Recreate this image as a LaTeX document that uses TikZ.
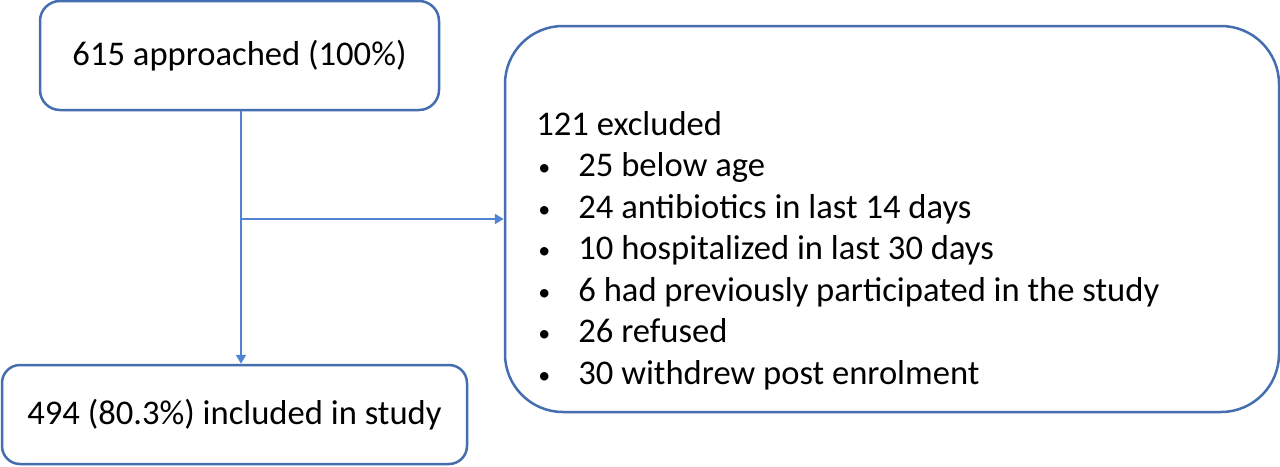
\documentclass[tikz,border=0pt]{standalone}
\usepackage{fontspec}
\setmainfont{Carlito}
\usetikzlibrary{arrows.meta}
\definecolor{boxblue}{RGB}{68,110,175}
\definecolor{lineblue}{RGB}{80,132,210}
\newcommand{\blt}{\makebox[21pt][l]{\hspace{1pt}\raisebox{0.5pt}{\fontsize{12}{12}\selectfont•}}}
\tikzset{
  flowbox/.style={draw=boxblue, line width=1.25pt, fill=white, inner sep=0pt},
  conn/.style={draw=lineblue, line width=1pt, -{Triangle[length=4.5pt,width=5pt]}},
  txt/.style={font=\fontsize{17.3}{20.75}\selectfont, inner sep=0pt, text=black}
}
\begin{document}
\begin{tikzpicture}[x=0.5pt,y=-0.5pt]
\useasboundingbox (0,0) rectangle (1280,466);
% boxes
\node[flowbox, rounded corners=10pt, minimum width=199.5pt, minimum height=54.5pt, txt] (top) at (239.5,55.5) {615 approached (100\%)};
\node[flowbox, rounded corners=9pt, minimum width=232.5pt, minimum height=49.5pt, txt] (bot) at (234.5,414.5) {494 (80.3\%) included in study};
\node[flowbox, rounded corners=29pt, minimum width=387pt, minimum height=193pt] (excl) at (892,219) {};
\node[txt, anchor=base west, align=left] (list) at (536,384) {121 excluded\\
\blt 25 below age\\
\blt 24 antibiotics in last 14 days\\
\blt 10 hospitalized in last 30 days\\
\blt 6 had previously participated in the study\\
\blt 26 refused\\
\blt 30 withdrew post enrolment};
% connectors
\coordinate (split) at (241,219);
\draw[conn] (top.south -| split) -- (bot.north -| split);
\draw[conn] (split) -- (excl.west |- split);
\end{tikzpicture}
\end{document}
